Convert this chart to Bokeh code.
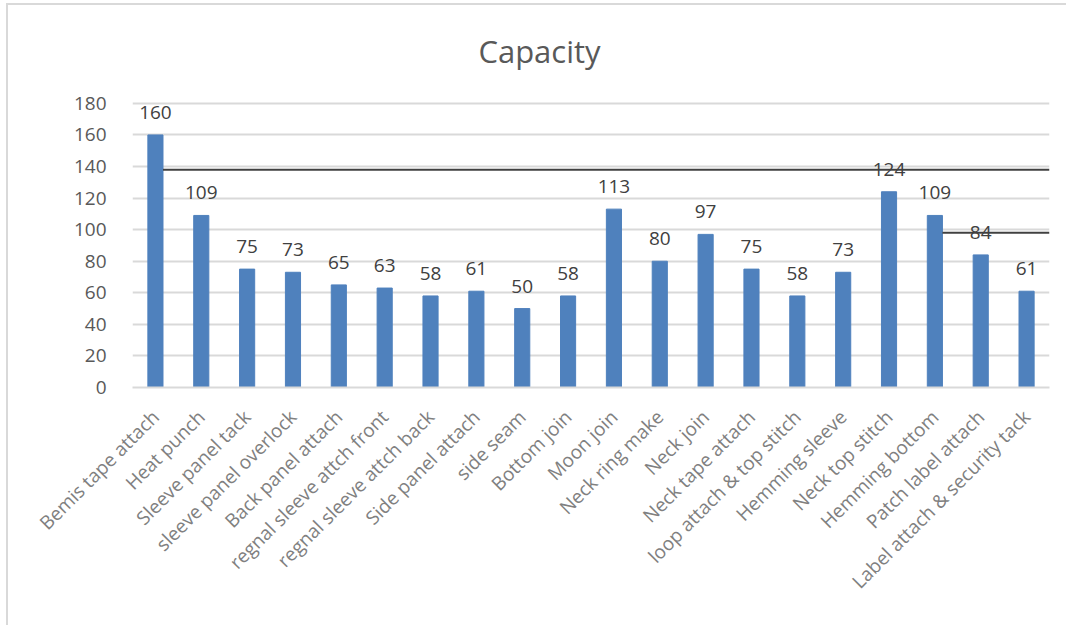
import math

from bokeh.core.properties import value
from bokeh.models import ColumnDataSource, FactorRange, FixedTicker, Label, LabelSet
from bokeh.plotting import figure
from bokeh.embed import file_html
from bokeh.resources import INLINE

# Operation names along the x axis
operations = [
    "Bemis tape attach", "Heat punch", "Sleeve panel tack", "sleeve panel overlock",
    "Back panel attach", "regnal sleeve attch front", "regnal sleeve attch back",
    "Side panel attach", "side seam", "Bottom join", "Moon join", "Neck ring make",
    "Neck join", "Neck tape attach", "loop attach & top stitch", "Hemming sleeve",
    "Neck top stitch", "Hemming bottom", "Patch label attach", "Label attach & security tack",
]

# Capacity per operation
capacity = [160, 109, 75, 73, 65, 63, 58, 61, 50, 58, 113, 80, 97, 75, 58, 73, 124, 109, 84, 61]

# Reference levels and the operation each one starts from
ref_levels = [138, 98]
ref_start = ["Bemis tape attach", "Hemming bottom"]

y_ticks = [0, 20, 40, 60, 80, 100, 120, 140, 160, 180]

FONT = "Open Sans"
BAR_W = 0.33

src = ColumnDataSource(dict(op=operations, cap=capacity, lab=[str(v) for v in capacity]))

# The plot frame runs up to the top edge so the title sits inside it;
# only the 0-180 ticks get gridlines and labels.
p = figure(
    x_range=FactorRange(*operations),
    y_range=(0, 242),
    width=1060, height=622,
    output_backend="svg", toolbar_location=None,
    min_border_left=124, min_border_right=19,
    min_border_top=0, min_border_bottom=240,
)
p.margin = (3, 0, 0, 6)
p.styles = {"border-top": "2px solid #d9d9d9", "border-left": "2px solid #d9d9d9"}

p.background_fill_color = "white"
p.border_fill_color = "white"
p.outline_line_color = None

p.add_layout(Label(
    x=407, y=337, x_units="screen", y_units="screen", text="Capacity",
    text_align="center", text_baseline="alphabetic",
    text_font=FONT, text_font_size="31px", text_color="#595959",
))

p.vbar(x="op", top="cap", width=BAR_W, source=src, color="#4f81bd")

# Horizontal reference segments, from the right edge of their starting bar to the end
x0 = [operations.index(n) + 0.5 + BAR_W / 2 for n in ref_start]
x1 = [len(operations)] * len(ref_levels)
p.segment(x0=x0, y0=ref_levels, x1=x1, y1=ref_levels, line_color="#404040", line_width=2)

p.add_layout(LabelSet(
    x="op", y="cap", text="lab", source=src,
    text_align="center", text_baseline="alphabetic", y_offset=16,
    text_font=value(FONT), text_font_size=value("19px"), text_color=value("#404040"),
))

p.xgrid.grid_line_color = None
p.ygrid.grid_line_color = "#d9d9d9"
p.ygrid.grid_line_width = 2
p.yaxis.ticker = FixedTicker(ticks=y_ticks)

p.yaxis.axis_line_color = None
p.yaxis.major_tick_line_color = None
p.yaxis.minor_tick_line_color = None
p.yaxis.major_label_standoff = 20
p.yaxis.major_label_text_font = FONT
p.yaxis.major_label_text_font_size = "19px"
p.yaxis.major_label_text_color = "#595959"

p.xaxis.axis_line_color = "#d9d9d9"
p.xaxis.axis_line_width = 2
p.xaxis.major_tick_line_color = None
p.xaxis.minor_tick_line_color = None
p.xaxis.major_label_orientation = math.pi / 4
p.xaxis.major_label_standoff = 20
p.xaxis.major_label_text_font = FONT
p.xaxis.major_label_text_font_size = "19px"
p.xaxis.major_label_text_color = "#808080"

open("out.html", "w").write(file_html(p, INLINE))
